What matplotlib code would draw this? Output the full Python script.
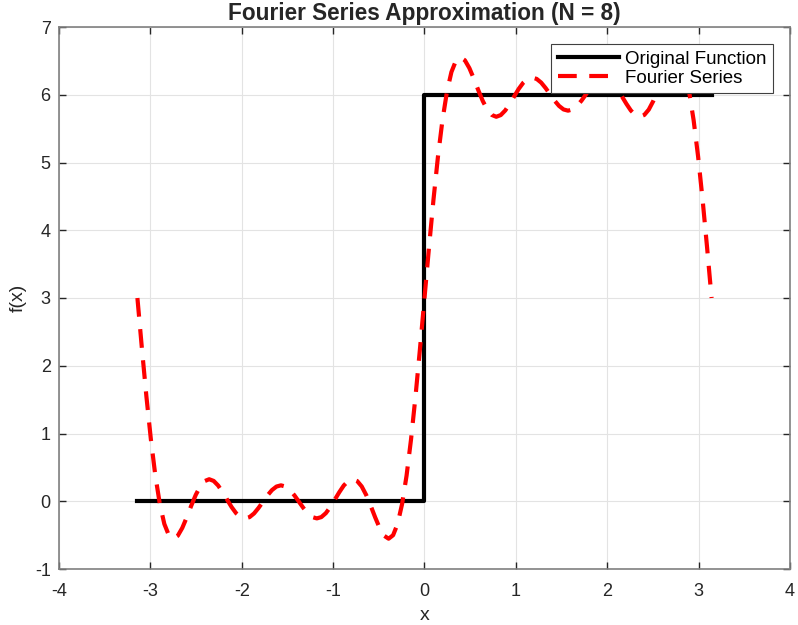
import numpy as np
import matplotlib
matplotlib.use("Agg")
import matplotlib.pyplot as plt

plt.rcParams['font.family'] = ['Liberation Sans', 'DejaVu Sans']
plt.rcParams['axes.unicode_minus'] = False

# step function (original)
x_orig = [-np.pi, 0.0, 0.0, np.pi]
y_orig = [0, 0, 6, 6]

# Fourier series read at x = m*pi/64, m = 0..64 (right half) and x = -m*pi/64 (left half)
y_pos = [3.000, 3.744, 4.450, 5.086, 5.623, 6.042, 6.335, 6.501, 6.553, 6.509,
         6.394, 6.237, 6.066, 5.907, 5.781, 5.702, 5.675, 5.700, 5.768, 5.867,
         5.978, 6.086, 6.176, 6.234, 6.253, 6.234, 6.180, 6.099, 6.006, 5.913,
         5.835, 5.783, 5.765, 5.783, 5.835, 5.913, 6.006, 6.099, 6.180, 6.234,
         6.253, 6.234, 6.176, 6.086, 5.978, 5.867, 5.768, 5.700, 5.675, 5.702,
         5.781, 5.907, 6.066, 6.237, 6.394, 6.509, 6.553, 6.501, 6.335, 6.042,
         5.623, 5.086, 4.450, 3.744, 3.000]
y_neg = [3.000, 2.256, 1.550, 0.914, 0.377, -0.042, -0.335, -0.501, -0.553, -0.509,
         -0.394, -0.237, -0.066, 0.093, 0.219, 0.298, 0.325, 0.300, 0.232, 0.133,
         0.022, -0.086, -0.176, -0.234, -0.253, -0.234, -0.180, -0.099, -0.006, 0.087,
         0.165, 0.217, 0.235, 0.217, 0.165, 0.087, -0.006, -0.099, -0.180, -0.234,
         -0.253, -0.234, -0.176, -0.086, 0.022, 0.133, 0.232, 0.300, 0.325, 0.298,
         0.219, 0.093, -0.066, -0.237, -0.394, -0.509, -0.553, -0.501, -0.335, -0.042,
         0.377, 0.914, 1.550, 2.256, 3.000]

x_fs = np.arange(-64, 65) * np.pi / 64
y_fs = y_neg[::-1][:-1] + y_pos

fig = plt.figure(figsize=(7.98, 6.25), dpi=100)
ax = fig.add_axes([0.0739, 0.0896, 0.9161, 0.8672])

ax.plot(x_orig, y_orig, color='black', lw=3, label='Original Function', zorder=3)
ax.plot(x_fs, y_fs, color='red', lw=3, dashes=(4.5, 3), label='Fourier Series', zorder=4)

ax.set_xlim(-4, 4)
ax.set_ylim(-1, 7)
ax.set_xticks(range(-4, 5))
ax.set_yticks(range(-1, 8))
ax.grid(True, color='#e3e3e3', lw=0.8)
ax.set_axisbelow(True)
ax.tick_params(direction='in', top=True, right=True, labelsize=13,
               colors='#262626', length=5, width=1)
ax.tick_params(axis='x', pad=10)
ax.tick_params(axis='y', pad=6)
for sp in ax.spines.values():
    sp.set_color('#808080')
    sp.set_linewidth(1.2)

ax.set_title('Fourier Series Approximation (N = 8)', fontsize=16.3,
             fontweight='bold', color='#262626', pad=5)
ax.set_xlabel('x', fontsize=14, color='#262626', labelpad=5)
ax.set_ylabel('f(x)', fontsize=14, color='#262626', labelpad=5.5)

leg = ax.legend(loc='upper right', fontsize=13.5, fancybox=False, framealpha=1,
                edgecolor='#404040', borderaxespad=0.9, handlelength=3.3,
                borderpad=0.35, labelspacing=0.1, handletextpad=0.3)
leg.get_frame().set_linewidth(0.8)

fig.savefig('out.png', dpi=100)
